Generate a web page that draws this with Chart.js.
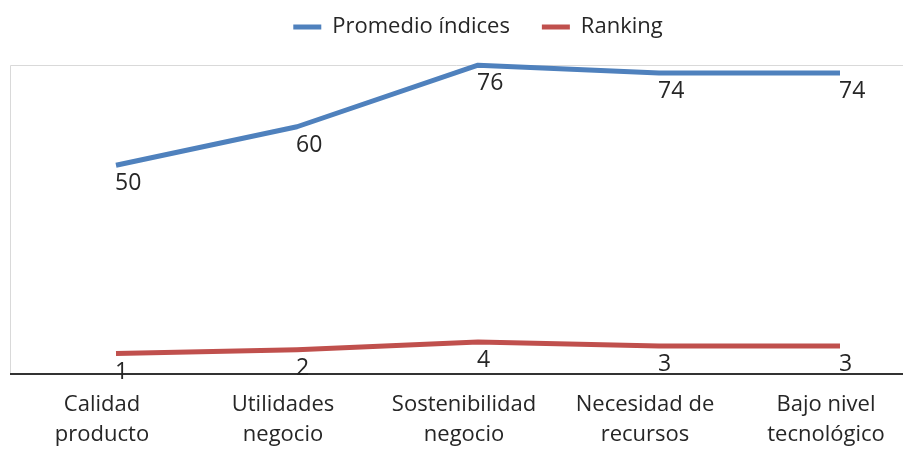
<!DOCTYPE html>
<html>
<head>
<meta charset="utf-8">
<title>Promedio índices y Ranking</title>
<script src="https://cdn.jsdelivr.net/npm/chart.js@4.4.1/dist/chart.umd.min.js"></script>
<style>
    html, body { margin: 0; padding: 0; background: #fff; }
</style>
</head>
<body>
<canvas id="indicesChart" width="903" height="450"></canvas>
<script>
// datos
var categories = [
    ["Calidad", "producto"],
    ["Utilidades", "negocio"],
    ["Sostenibilidad", "negocio"],
    ["Necesidad de", "recursos"],
    ["Bajo nivel", "tecnológico"]
];
var promedioIndices = [50, 60, 76, 74, 74];
var ranking = [1, 2, 4, 3, 3];
var seriesNames = ["Promedio índices", "Ranking"];
var seriesColors = ["#4F81BD", "#C0504D"];

var FONT = "'Open Sans'";
var TEXT_COLOR = "#262626";

// marco del area de trazado (estilo excel) + eje inferior
var plotFrame = {
    id: "plotFrame",
    beforeDatasetsDraw: function (chart) {
        var a = chart.chartArea, ctx = chart.ctx;
        ctx.save();
        ctx.strokeStyle = "#d9d9d9";
        ctx.lineWidth = 1;
        ctx.beginPath();
        ctx.moveTo(10.5, a.bottom);
        ctx.lineTo(10.5, a.top - 0.5);
        ctx.lineTo(chart.width, a.top - 0.5);
        ctx.stroke();

        ctx.strokeStyle = "#333333";
        ctx.lineWidth = 2;
        ctx.beginPath();
        ctx.moveTo(10, a.bottom);
        ctx.lineTo(chart.width, a.bottom);
        ctx.stroke();
        ctx.restore();
    }
};

// etiquetas de valor debajo de cada punto
var pointLabels = {
    id: "pointLabels",
    afterDatasetsDraw: function (chart) {
        var ctx = chart.ctx;
        ctx.save();
        ctx.font = "23px " + FONT;
        ctx.fillStyle = TEXT_COLOR;
        ctx.textAlign = "left";
        ctx.textBaseline = "middle";
        chart.data.datasets.forEach(function (ds, i) {
            chart.getDatasetMeta(i).data.forEach(function (pt, j) {
                ctx.fillText(String(ds.data[j]), pt.x - 1, pt.y + 18.5);
            });
        });
        ctx.restore();
    }
};

function lineSet(label, values, color) {
    return {
        label: label,
        data: values,
        borderColor: color,
        backgroundColor: color,
        borderWidth: 5,
        borderCapStyle: "butt",
        borderJoinStyle: "round",
        tension: 0,
        pointRadius: 0,
        pointHoverRadius: 0,
        fill: false,
        clip: false
    };
}

var ctx = document.getElementById("indicesChart").getContext("2d");
var chart = new Chart(ctx, {
    type: "line",
    data: {
        labels: categories,
        datasets: [
            lineSet(seriesNames[0], promedioIndices, seriesColors[0]),
            lineSet(seriesNames[1], ranking, seriesColors[1])
        ]
    },
    options: {
        responsive: false,
        animation: false,
        devicePixelRatio: 1,
        layout: {
            padding: { top: -16, left: 116, right: 63, bottom: 0 }
        },
        scales: {
            x: {
                grid: { display: false, drawTicks: false },
                border: { display: false },
                ticks: {
                    color: TEXT_COLOR,
                    font: { family: FONT, size: 22, lineHeight: "30px" },
                    padding: 16,
                    labelOffset: -14,
                    maxRotation: 0,
                    autoSkip: false
                },
                afterFit: function (s) {
                    // las etiquetas pueden salir del area, como en excel
                    s.paddingLeft = 0;
                    s.paddingRight = 0;
                    s.height = 76;
                }
            },
            y: {
                display: false,
                min: -4.3,
                max: 75.8
            }
        },
        plugins: {
            legend: {
                position: "top",
                labels: {
                    color: TEXT_COLOR,
                    font: { family: FONT, size: 22 },
                    boxWidth: 28,
                    boxHeight: 5,
                    padding: 32,
                    generateLabels: function (c) {
                        var items = Chart.defaults.plugins.legend.labels.generateLabels(c);
                        items.forEach(function (it) { it.lineWidth = 0; });
                        return items;
                    }
                }
            },
            // solo sirve de espacio entre leyenda y grafico
            title: {
                display: true,
                text: "",
                weight: 500,
                padding: 0,
                font: { size: 10, lineHeight: "18px" }
            },
            tooltip: { enabled: false }
        }
    },
    plugins: [plotFrame, pointLabels]
});
</script>
</body>
</html>
